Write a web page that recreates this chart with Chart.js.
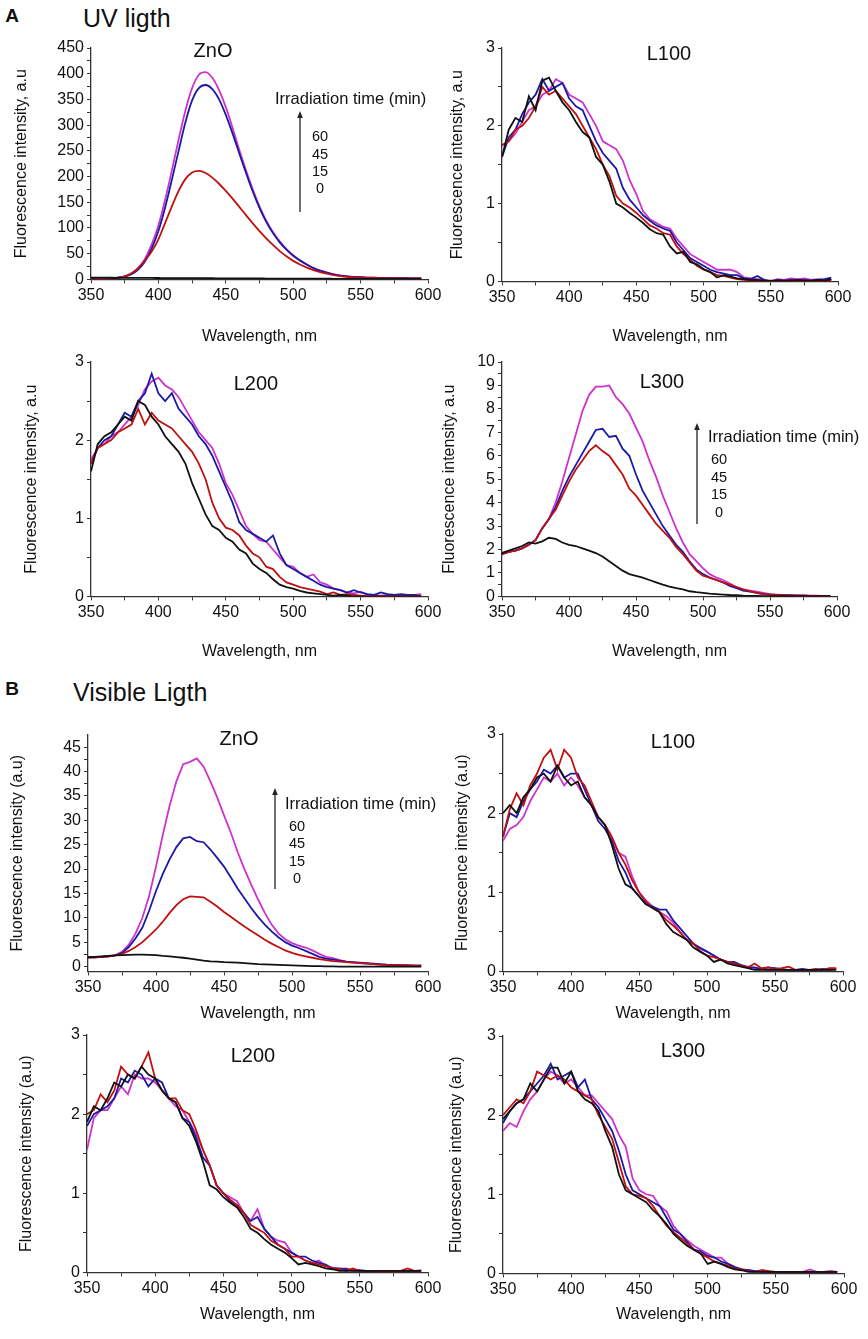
<!DOCTYPE html>
<html>
<head>
<meta charset="utf-8">
<script src="https://cdn.jsdelivr.net/npm/chart.js@4.4.1/dist/chart.umd.min.js"></script>
<style>
  body { margin: 0; background: #fff; font-family: "Liberation Sans", Arial, sans-serif; }
  #page { position: relative; width: 868px; height: 1339px; overflow: hidden; background: #fff; }
  canvas { position: absolute; }
  .t { position: absolute; white-space: nowrap; color: #111; line-height: 1; }
</style>
</head>
<body>
<div id="page"></div>
<script>
// Longueurs d'onde communes (nm), pas de 5 nm
const wavelengths = [350,355,360,365,370,375,380,385,390,395,400,405,410,415,420,425,430,435,440,445,
  450,455,460,465,470,475,480,485,490,495,500,505,510,515,520,525,530,535,540,545,
  550,555,560,565,570,575,580,585,590,595];
const irradiationTimes = ['0', '15', '45', '60'];
const seriesColors = ['#111111', '#c01010', '#1a1aa6', '#cc33cc'];

// Graduations
const xTicks = [350,375,400,425,450,475,500,525,550,575,600];
const xLabels = [350,400,450,500,550,600];
const uvZnOTicks = [0,25,50,75,100,125,150,175,200,225,250,275,300,325,350,375,400,425,450];
const uvZnOLabels = [0,50,100,150,200,250,300,350,400,450];
const lowTicks = [0,0.5,1,1.5,2,2.5,3];
const lowLabels = [0,1,2,3];
const l300Ticks = [0,0.5,1,1.5,2,2.5,3,3.5,4,4.5,5,5.5,6,6.5,7,7.5,8,8.5,9,9.5,10];
const l300Labels = [0,1,2,3,4,5,6,7,8,9,10];
const visZnOTicks = [0,2.5,5,7.5,10,12.5,15,17.5,20,22.5,25,27.5,30,32.5,35,37.5,40,42.5,45];
const visZnOLabels = [0,5,10,15,20,25,30,35,40,45];

// --- A : lumière UV ---
const uvZnO_0 = [3.5,3.4,3.3,3.2,3.1,3.0,3.0,2.9,2.8,2.8, 2.7,2.6,2.6,2.5,2.4,2.4,2.3,2.2,2.2,2.1,
  2.0,2.0,1.9,1.9,1.8,1.8,1.7,1.7,1.6,1.6, 1.5,1.5,1.4,1.4,1.3,1.3,1.2,1.2,1.1,1.1,
  1.0,1.0,1.0,0.9,0.9,0.9,0.8,0.8,0.8,0.8];
const uvZnO_15 = [2,2,2,2,3,6,12,22,37,54, 78,110,142,172,195,208,211,207,198,186,
  172,157,141,125,109,94,80,67,55,45, 36,29,23,18,14,11,8.5,6.5,5,4,
  3.5,3,2.8,2.6,2.4,2.2,2.1,2,2,2];
const uvZnO_45 = [2,2,2,2.5,3.5,5.5,10,19,35,60, 94,140,194,250,305,348,372,378,370,350,
  320,284,245,207,171,139,112,90,72,58, 46,37,29,22,17,13,10,7.5,6,5,
  4.2,3.6,3.2,2.9,2.6,2.4,2.3,2.2,2,2];
const uvZnO_60 = [2,2,2,2.5,3.5,6,11,22,40,68, 105,155,212,272,328,372,398,403,392,368,
  335,295,252,212,175,142,114,92,74,59, 47,37,29,22,17,13,10,7.5,6,5,
  4.2,3.6,3.2,2.9,2.6,2.4,2.3,2.2,2,2];

const uvL100_0 = [1.6,1.95,2.1,2.05,2.38,2.2,2.58,2.62,2.45,2.3, 2.2,2.05,1.92,1.85,1.6,1.5,1.28,1.0,0.95,0.88,
  0.82,0.75,0.67,0.62,0.6,0.45,0.36,0.38,0.25,0.22, 0.16,0.12,0.05,0.08,0.06,0.04,0.03,0.02,0.02,0.01,
  0.01,0.01,0.01,0.01,0.02,0.01,0.01,0.02,0.01,0.03];
const uvL100_15 = [1.75,1.8,1.95,2.0,2.1,2.25,2.5,2.4,2.45,2.35, 2.25,2.15,2.0,1.85,1.7,1.5,1.35,1.1,1.0,0.95,
  0.88,0.8,0.72,0.68,0.62,0.6,0.45,0.35,0.28,0.2, 0.15,0.12,0.08,0.07,0.05,0.03,0.02,0.01,0.01,0.0,
  0.0,0.01,0.0,0.01,0.0,0.01,0.0,0.01,0.0,0.01];
const uvL100_45 = [1.6,1.85,1.95,2.15,2.3,2.4,2.6,2.45,2.5,2.55, 2.35,2.25,2.2,2.0,1.8,1.65,1.55,1.45,1.2,1.05,
  0.95,0.85,0.78,0.72,0.68,0.65,0.5,0.4,0.3,0.25, 0.2,0.15,0.12,0.1,0.08,0.08,0.04,0.03,0.07,0.02,
  0.0,0.02,0.01,0.02,0.01,0.02,0.01,0.02,0.03,0.05];
const uvL100_60 = [1.75,1.8,1.9,2.05,2.2,2.25,2.4,2.45,2.6,2.55, 2.4,2.35,2.3,2.15,2.0,1.8,1.75,1.7,1.55,1.3,
  1.12,0.9,0.8,0.75,0.7,0.68,0.55,0.45,0.35,0.3, 0.25,0.2,0.15,0.15,0.15,0.12,0.05,0.04,0.03,0.02,
  0.0,0.03,0.02,0.04,0.03,0.04,0.02,0.03,0.02,0.02];

const uvL200_0 = [1.6,1.95,2.05,2.1,2.2,2.3,2.25,2.5,2.45,2.3, 2.2,2.05,1.95,1.85,1.7,1.45,1.25,1.05,0.9,0.85,
  0.75,0.7,0.6,0.55,0.42,0.35,0.3,0.22,0.15,0.12, 0.1,0.07,0.05,0.04,0.03,0.02,0.01,0.02,0.01,0.0,
  0.0,0.0,0.0,0.0,0.0,0.0,0.0,0.0,0.0,0.0];
const uvL200_15 = [1.7,1.9,1.95,2.0,2.1,2.15,2.2,2.4,2.2,2.35, 2.25,2.2,2.15,2.05,1.95,1.85,1.7,1.5,1.2,1.0,
  0.88,0.85,0.78,0.65,0.55,0.5,0.38,0.35,0.25,0.18, 0.15,0.12,0.1,0.08,0.06,0.03,0.05,0.02,0.03,0.02,
  0.01,0.0,0.0,0.0,0.0,0.0,0.0,0.0,0.0,0.0];
const uvL200_45 = [1.7,1.9,2.0,2.05,2.2,2.35,2.3,2.5,2.6,2.85, 2.6,2.5,2.6,2.4,2.3,2.2,2.05,1.95,1.8,1.6,
  1.4,1.2,0.95,0.85,0.8,0.75,0.7,0.78,0.55,0.4, 0.35,0.3,0.25,0.2,0.15,0.12,0.1,0.08,0.05,0.08,
  0.05,0.03,0.02,0.05,0.03,0.02,0.03,0.02,0.02,0.0];
const uvL200_60 = [1.75,1.9,1.95,2.05,2.1,2.2,2.3,2.45,2.65,2.75, 2.8,2.7,2.65,2.55,2.4,2.25,2.1,2.0,1.9,1.7,
  1.45,1.3,1.1,0.9,0.8,0.72,0.7,0.6,0.5,0.4, 0.38,0.3,0.25,0.28,0.18,0.15,0.1,0.08,0.05,0.04,
  0.06,0.02,0.02,0.01,0.02,0.01,0.02,0.01,0.02,0.03];

const uvL300_0 = [1.85,1.95,2.05,2.15,2.3,2.25,2.35,2.5,2.45,2.3, 2.2,2.15,2.05,1.95,1.85,1.7,1.5,1.3,1.1,0.95,
  0.88,0.8,0.7,0.6,0.5,0.42,0.35,0.3,0.22,0.18, 0.15,0.12,0.1,0.08,0.06,0.05,0.03,0.02,0.02,0.01,
  0.01,0.01,0.01,0.01,0.01,0.01,0.01,0.01,0.01,0.01];
const uvL300_15 = [1.8,1.9,1.95,2.05,2.2,2.4,2.9,3.3,3.7,4.3, 4.9,5.4,5.8,6.2,6.45,6.2,6.0,5.6,5.2,4.6,
  4.3,3.9,3.5,3.1,2.8,2.5,2.1,1.8,1.45,1.1, 0.88,0.8,0.7,0.6,0.5,0.4,0.3,0.22,0.15,0.1,
  0.08,0.06,0.05,0.04,0.03,0.03,0.02,0.02,0.02,0.02];
const uvL300_45 = [1.8,1.9,1.95,2.05,2.2,2.4,2.9,3.3,3.8,4.5, 5.1,5.6,6.1,6.6,7.1,7.15,6.8,6.85,6.3,6.0,
  5.2,4.5,4.0,3.5,3.0,2.6,2.2,1.9,1.5,1.15, 0.95,0.8,0.7,0.6,0.45,0.35,0.25,0.2,0.15,0.1,
  0.08,0.06,0.05,0.04,0.03,0.03,0.02,0.02,0.02,0.02];
const uvL300_60 = [1.8,1.9,1.95,2.05,2.2,2.4,2.9,3.3,4.0,4.9, 5.9,6.9,7.9,8.6,8.95,8.95,9.0,8.5,8.2,7.8,
  7.2,6.6,5.8,5.1,4.3,3.6,2.9,2.3,1.8,1.5, 1.2,0.95,0.8,0.7,0.55,0.4,0.3,0.25,0.2,0.15,
  0.1,0.08,0.06,0.05,0.04,0.04,0.03,0.03,0.02,0.02];

// --- B : lumière visible ---
const visZnO_0 = [1.9,2.0,2.1,2.2,2.3,2.35,2.4,2.45,2.45,2.4, 2.35,2.2,2.1,1.95,1.8,1.6,1.4,1.2,1.05,1.0,
  0.9,0.85,0.8,0.7,0.6,0.5,0.45,0.4,0.35,0.3, 0.25,0.2,0.15,0.1,0.1,0.05,0.05,0,0,0,
  0,0,0,0,0,0,0,0,0,0];
const visZnO_15 = [1.9,1.9,2.0,2.1,2.3,2.6,3.2,4.0,5.0,6.3, 7.6,9.2,11,12.6,13.8,14.4,14.3,14.2,13.3,12.3,
  11.2,10.2,9.2,8.2,7.3,6.4,5.5,4.7,4.0,3.3, 2.8,2.4,2.1,1.8,1.5,1.3,1.1,1.0,0.9,0.8,
  0.7,0.6,0.5,0.4,0.35,0.3,0.3,0.25,0.2,0.2];
const visZnO_45 = [1.9,1.9,2.0,2.1,2.3,2.8,4.0,5.8,8.0,11.5, 15.5,19,22,24.5,26.3,26.6,25.7,25.5,24,22.3,
  20.5,18.3,16,14,12,10.2,8.6,7.2,6,5, 4.3,3.8,3.2,2.6,2.0,1.6,1.4,1.2,1.0,0.9,
  0.8,0.7,0.6,0.5,0.4,0.35,0.3,0.25,0.2,0.2];
const visZnO_60 = [1.9,1.9,2.0,2.1,2.3,3.0,4.5,6.8,10,14.5, 20.5,27,33,38,41.5,42,42.7,41,38,34.7,
  31,27.5,23.5,20,16.8,13.8,11,8.6,6.8,5.6, 4.8,4.3,3.9,3.3,2.6,2.0,1.7,1.3,1.0,0.8,
  0.7,0.6,0.5,0.4,0.35,0.3,0.3,0.25,0.2,0.2];

const visL100_0 = [2.0,2.1,2.0,2.2,2.3,2.45,2.5,2.4,2.6,2.45, 2.35,2.4,2.2,2.1,1.95,1.85,1.6,1.3,1.1,1.05,
  0.95,0.85,0.8,0.75,0.6,0.5,0.45,0.4,0.3,0.25, 0.2,0.12,0.15,0.1,0.08,0.06,0.04,0.02,0.02,0.02,
  0.02,0.02,0.02,0.02,0.02,0.02,0.02,0.02,0.02,0.02];
const visL100_15 = [1.7,2.05,2.25,2.1,2.35,2.5,2.7,2.8,2.55,2.8, 2.7,2.45,2.35,2.15,1.95,1.85,1.7,1.5,1.35,1.15,
  1.0,0.88,0.8,0.75,0.65,0.58,0.5,0.4,0.35,0.25, 0.2,0.18,0.15,0.12,0.1,0.07,0.05,0.1,0.04,0.05,
  0.03,0.04,0.06,0.02,0.02,0.02,0.03,0.02,0.04,0.04];
const visL100_45 = [1.7,2.0,1.95,2.15,2.3,2.4,2.55,2.5,2.6,2.45, 2.5,2.5,2.3,2.1,1.9,1.8,1.65,1.4,1.25,1.05,
  0.95,0.85,0.82,0.78,0.78,0.65,0.55,0.45,0.35,0.3, 0.25,0.2,0.15,0.12,0.12,0.08,0.05,0.05,0.03,0.05,
  0.04,0.03,0.02,0.02,0.03,0.02,0.02,0.03,0.02,0.03];
const visL100_60 = [1.65,1.8,1.85,1.95,2.15,2.3,2.45,2.4,2.5,2.35, 2.45,2.35,2.2,2.1,1.95,1.85,1.7,1.5,1.45,1.2,
  1.0,0.9,0.82,0.75,0.7,0.62,0.5,0.4,0.35,0.28, 0.25,0.2,0.15,0.12,0.1,0.08,0.06,0.04,0.03,0.02,
  0.02,0.02,0.02,0.02,0.02,0.02,0.02,0.02,0.03,0.03];

const visL200_0 = [1.9,2.1,2.05,2.2,2.4,2.35,2.5,2.45,2.6,2.5, 2.45,2.3,2.2,2.15,1.95,1.85,1.65,1.4,1.1,1.05,
  0.95,0.88,0.82,0.7,0.55,0.5,0.42,0.35,0.3,0.25, 0.18,0.1,0.12,0.1,0.08,0.05,0.04,0.02,0.02,0.02,
  0.02,0.02,0.02,0.02,0.02,0.02,0.02,0.02,0.02,0.02];
const visL200_15 = [2.0,2.05,2.25,2.15,2.3,2.6,2.5,2.45,2.6,2.78, 2.45,2.3,2.2,2.2,2.05,2.0,1.8,1.55,1.35,1.1,
  1.0,0.92,0.85,0.75,0.6,0.55,0.5,0.4,0.35,0.3, 0.2,0.2,0.15,0.12,0.1,0.08,0.05,0.04,0.02,0.05,
  0.02,0.02,0.02,0.01,0.02,0.01,0.02,0.05,0.02,0.02];
const visL200_45 = [1.85,2.0,2.05,2.1,2.2,2.45,2.4,2.55,2.5,2.35, 2.45,2.4,2.2,2.15,1.95,1.9,1.7,1.45,1.35,1.1,
  1.0,0.9,0.85,0.75,0.65,0.7,0.55,0.45,0.35,0.3, 0.25,0.2,0.2,0.15,0.12,0.1,0.05,0.05,0.04,0.03,
  0.03,0.02,0.02,0.02,0.02,0.02,0.02,0.02,0.02,0.02];
const visL200_60 = [1.55,1.95,2.05,2.05,2.2,2.35,2.25,2.5,2.45,2.45, 2.4,2.3,2.2,2.1,2.05,1.9,1.75,1.55,1.35,1.1,
  1.0,0.95,0.9,0.75,0.65,0.8,0.55,0.45,0.4,0.38, 0.25,0.2,0.15,0.12,0.15,0.08,0.06,0.04,0.05,0.02,
  0.02,0.02,0.02,0.02,0.02,0.02,0.02,0.02,0.02,0.03];

const visL300_0 = [1.95,2.05,2.15,2.2,2.4,2.3,2.45,2.6,2.6,2.4, 2.55,2.3,2.2,2.15,2.05,1.8,1.6,1.25,1.05,1.0,
  0.95,0.9,0.8,0.72,0.62,0.5,0.42,0.35,0.3,0.25, 0.12,0.15,0.12,0.08,0.05,0.04,0.02,0.02,0.02,0.02,
  0.02,0.02,0.02,0.02,0.02,0.02,0.02,0.02,0.02,0.02];
const visL300_15 = [2.0,2.1,2.2,2.15,2.3,2.55,2.5,2.45,2.5,2.45, 2.35,2.3,2.25,2.2,2.0,1.85,1.7,1.4,1.1,1.0,
  0.98,0.95,0.85,0.72,0.6,0.52,0.45,0.38,0.3,0.25, 0.2,0.15,0.12,0.1,0.06,0.05,0.03,0.02,0.04,0.03,
  0.02,0.02,0.02,0.02,0.02,0.02,0.02,0.02,0.02,0.02];
const visL300_45 = [1.9,2.05,2.15,2.2,2.3,2.4,2.5,2.65,2.45,2.5, 2.55,2.35,2.45,2.2,2.1,1.95,1.8,1.55,1.25,1.05,
  1.0,0.95,0.9,0.85,0.7,0.55,0.5,0.4,0.3,0.28, 0.22,0.2,0.15,0.12,0.08,0.05,0.04,0.03,0.02,0.02,
  0.02,0.02,0.02,0.02,0.02,0.02,0.02,0.02,0.02,0.02];
const visL300_60 = [1.8,1.9,1.85,2.05,2.2,2.3,2.45,2.55,2.5,2.4, 2.45,2.35,2.25,2.25,2.15,2.05,1.95,1.75,1.6,1.2,
  1.05,1.0,0.98,0.85,0.78,0.6,0.5,0.42,0.35,0.3, 0.25,0.2,0.2,0.12,0.08,0.05,0.04,0.03,0.04,0.02,
  0.02,0.02,0.02,0.02,0.02,0.05,0.02,0.02,0.03,0.02];

Chart.defaults.font.family = '"Liberation Sans", Arial, sans-serif';
Chart.defaults.color = '#111';

const page = document.getElementById('page');

// Texte HTML positionné
function addText(str, x, y, size, align, bold) {
  const d = document.createElement('div');
  d.className = 't';
  d.textContent = str;
  d.style.fontSize = size + 'px';
  d.style.left = x + 'px';
  d.style.top = y + 'px';
  if (bold) d.style.fontWeight = 'bold';
  d.style.transform = align === 'left' ? 'translate(0,-50%)' : 'translate(-50%,-50%)';
  page.appendChild(d);
}

// Flèche verticale de la légende
function addArrow(x, yBottom, yTop) {
  const ns = 'http://www.w3.org/2000/svg';
  const svg = document.createElementNS(ns, 'svg');
  svg.setAttribute('width', 12);
  svg.setAttribute('height', yBottom - yTop + 2);
  svg.style.position = 'absolute';
  svg.style.left = (x - 6) + 'px';
  svg.style.top = yTop + 'px';
  const line = document.createElementNS(ns, 'line');
  line.setAttribute('x1', 6); line.setAttribute('x2', 6);
  line.setAttribute('y1', 5); line.setAttribute('y2', yBottom - yTop);
  line.setAttribute('stroke', '#222'); line.setAttribute('stroke-width', 1.3);
  const head = document.createElementNS(ns, 'polygon');
  head.setAttribute('points', '6,0 3.2,7 8.8,7');
  head.setAttribute('fill', '#222');
  svg.appendChild(line); svg.appendChild(head);
  page.appendChild(svg);
}

function addLegend(textX, textY, arrowX, arrowBottom, arrowTop, numX, numYs) {
  addText('Irradiation time (min)', textX, textY, 16.5, 'left');
  addArrow(arrowX, arrowBottom, arrowTop);
  const order = irradiationTimes.slice().reverse();
  order.forEach((t, i) => addText(t, numX, numYs[i], 14.5));
}

// Un panneau = un graphique Chart.js
function makePanel(p) {
  const yW = 90, padTop = 20, padRight = 25;
  const lh = 16 * 1.2;
  const xH = p.xTitleY - p.B + lh / 2 + 4;
  const left = p.L - yW, top = p.T - padTop;
  const canvas = document.createElement('canvas');
  canvas.width = p.R - p.L + yW + padRight;
  canvas.height = p.B - p.T + padTop + xH;
  canvas.style.left = left + 'px';
  canvas.style.top = top + 'px';
  page.appendChild(canvas);

  const datasets = p.series.map((s, i) => ({
    label: irradiationTimes[i] + ' min',
    data: wavelengths.map((x, j) => ({ x: x, y: s[j] })),
    borderColor: seriesColors[i],
    borderWidth: 1.8,
    pointRadius: 0,
    fill: false,
    tension: p.smooth ? 0.4 : 0,
    cubicInterpolationMode: p.smooth ? 'monotone' : 'default'
  }));

  new Chart(canvas, {
    type: 'line',
    data: { datasets: datasets },
    options: {
      responsive: false,
      animation: false,
      layout: { padding: { top: padTop, right: padRight, left: 0, bottom: 0 } },
      plugins: { legend: { display: false }, tooltip: { enabled: false } },
      scales: {
        x: {
          type: 'linear', min: 350, max: 600,
          afterBuildTicks: s => { s.ticks = xTicks.map(v => ({ value: v })); },
          afterFit: s => { s.height = xH; },
          ticks: {
            autoSkip: false, maxRotation: 0, padding: 3, color: '#111', font: { size: 16 },
            callback: v => xLabels.includes(v) ? String(v) : ''
          },
          grid: { drawOnChartArea: false, tickLength: 4, color: '#333' },
          border: { color: '#333', width: 1.3 },
          title: { display: true, text: 'Wavelength, nm', color: '#111', font: { size: 16 }, padding: { top: 0, bottom: 4 } }
        },
        y: {
          type: 'linear', min: p.yMin, max: p.yMax,
          afterBuildTicks: s => { s.ticks = p.yTicks.map(v => ({ value: v })); },
          afterFit: s => { s.width = yW; },
          ticks: {
            autoSkip: false, padding: 3, color: '#111', font: { size: 16 },
            callback: v => p.yLabels.includes(v) ? String(v) : ''
          },
          grid: { drawOnChartArea: false, tickLength: 4, color: '#333' },
          border: { color: '#333', width: 1.3 },
          title: {
            display: true, text: p.yTitle, color: '#111', font: { size: 16 },
            padding: { top: p.yTitleX - left - lh / 2, bottom: 0 }
          }
        }
      }
    }
  });
  addText(p.name, p.nameX, p.nameY, 20);
}

const uvTitle = 'Fluorescence intensity, a.u';
const visTitle = 'Fluorescence intensity (a.u)';

// En-têtes des deux parties
addText('A', 12, 15, 19, 'center', true);
addText('UV ligth', 83, 18, 25, 'left');
addText('B', 12, 688, 19, 'center', true);
addText('Visible Ligth', 73, 692, 25, 'left');

makePanel({ name: 'ZnO', nameX: 213, nameY: 50, L: 91, T: 48, R: 428, B: 280, yMin: 0, yMax: 450,
  yTicks: uvZnOTicks, yLabels: uvZnOLabels, yTitle: uvTitle, yTitleX: 22, xTitleY: 337, smooth: true,
  series: [uvZnO_0, uvZnO_15, uvZnO_45, uvZnO_60] });
makePanel({ name: 'L100', nameX: 669, nameY: 53, L: 502, T: 48, R: 838, B: 282, yMin: 0, yMax: 3,
  yTicks: lowTicks, yLabels: lowLabels, yTitle: uvTitle, yTitleX: 458, xTitleY: 337,
  series: [uvL100_0, uvL100_15, uvL100_45, uvL100_60] });
makePanel({ name: 'L200', nameX: 256, nameY: 383, L: 91, T: 362, R: 428, B: 597, yMin: 0, yMax: 3,
  yTicks: lowTicks, yLabels: lowLabels, yTitle: uvTitle, yTitleX: 32, xTitleY: 652,
  series: [uvL200_0, uvL200_15, uvL200_45, uvL200_60] });
makePanel({ name: 'L300', nameX: 662, nameY: 381, L: 502, T: 362, R: 837, B: 597, yMin: 0, yMax: 10,
  yTicks: l300Ticks, yLabels: l300Labels, yTitle: uvTitle, yTitleX: 450, xTitleY: 652,
  series: [uvL300_0, uvL300_15, uvL300_45, uvL300_60] });

makePanel({ name: 'ZnO', nameX: 239, nameY: 738, L: 88, T: 735, R: 428, B: 972, yMin: -1, yMax: 47.5,
  yTicks: visZnOTicks, yLabels: visZnOLabels, yTitle: visTitle, yTitleX: 18, xTitleY: 1014,
  series: [visZnO_0, visZnO_15, visZnO_45, visZnO_60] });
makePanel({ name: 'L100', nameX: 673, nameY: 741, L: 503, T: 734, R: 843, B: 972, yMin: 0, yMax: 3,
  yTicks: lowTicks, yLabels: lowLabels, yTitle: visTitle, yTitleX: 463, xTitleY: 1014,
  series: [visL100_0, visL100_15, visL100_45, visL100_60] });
makePanel({ name: 'L200', nameX: 253, nameY: 1055, L: 87, T: 1035, R: 428, B: 1273, yMin: 0, yMax: 3,
  yTicks: lowTicks, yLabels: lowLabels, yTitle: visTitle, yTitleX: 27, xTitleY: 1315,
  series: [visL200_0, visL200_15, visL200_45, visL200_60] });
makePanel({ name: 'L300', nameX: 683, nameY: 1050, L: 503, T: 1036, R: 844, B: 1274, yMin: 0, yMax: 3,
  yTicks: lowTicks, yLabels: lowLabels, yTitle: visTitle, yTitleX: 457, xTitleY: 1315,
  series: [visL300_0, visL300_15, visL300_45, visL300_60] });

// Légendes "Irradiation time"
addLegend(275, 98, 300, 212, 111, 320, [136, 154, 171, 188]);
addLegend(708, 436, 697, 524, 423, 719, [459, 477, 494, 512]);
addLegend(285, 803, 275, 889, 788, 297, [826, 843, 861, 878]);
</script>
</body>
</html>
